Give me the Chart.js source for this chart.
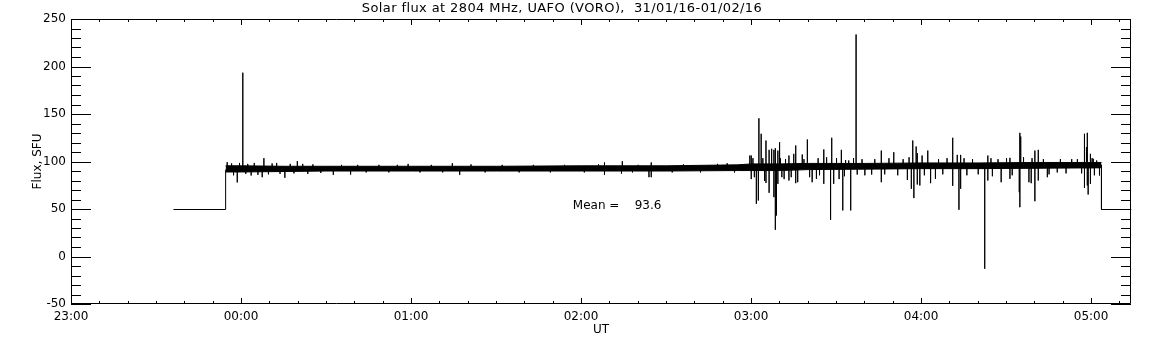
<!DOCTYPE html>
<html>
<head>
<meta charset="utf-8">
<title>Solar flux at 2804 MHz, UAFO (VORO)</title>
<script src="https://cdn.jsdelivr.net/npm/chart.js@4.4.1/dist/chart.umd.min.js"></script>
<style>
  html, body { margin: 0; padding: 0; background: #fff; }
  #wrap { width: 1152px; height: 345px; }
</style>
</head>
<body>
<div id="wrap"><canvas id="fluxChart" width="1152" height="345"></canvas></div>
<script>
// time axis: minutes after 23:00 UT (31/01/16)
const xTickValues = [0, 60, 120, 180, 240, 300, 360];
const xTickLabels = ['23:00', '00:00', '01:00', '02:00', '03:00', '04:00', '05:00'];
const yTickValues = [-50, 0, 50, 100, 150, 200, 250];
const xMin = 0, xMax = 374.1;
const yMin = -50, yMax = 250;
const meanFlux = 93.6;

// receiver off / calibration level before and after the record
const leadT = [36, 54.4, 54.4];
const leadV = [50, 50, 92];
const tailT = [363.5, 363.5, 374.1];
const tailV = [97, 50, 50];

// envelope of the dense noise band
const bandT = [54.4, 60, 75, 90, 120, 150, 180, 210, 235, 240, 250, 260, 280, 300, 320, 340, 355, 363.5];
const bandHi = [96, 96, 95.5, 95.5, 95.5, 95.5, 96, 96, 97, 98, 98, 98.5, 98.5, 99, 99, 99.5, 99.5, 99.5];
const bandLo = [89.5, 89.5, 90, 90.5, 90.5, 90.5, 90.5, 90.5, 91, 91, 91, 92, 92.5, 93, 93, 93.5, 94, 94];

// isolated spikes (time, flux)
const spikeT = [
  54.95, 58.5, 60.46, 63.4, 67.3, 67.9, 75.3, 79.7, 92.4, 98.5, 118.8, 134.4, 137,
  188.1, 188.1, 194.1, 194.4, 203.8, 204.6, 204.6, 231.4,
  239.4, 239.9, 239.9, 241.7, 242.4, 242.6, 243.4, 245.1, 245.1, 246.2, 246.2, 247.1,
  247.9, 247.9, 248.4, 248.4, 248.8, 249.3, 249.3, 249.9, 250.7, 253.2, 253.2, 254.9,
  255.6, 255.6, 256.3, 257.9, 259.7, 261.4, 262.9, 265.5, 265.5, 267.9, 268.3, 269,
  270.9, 271.7, 272.2, 273.2, 274.3, 275, 276.9, 277.3, 282.4, 285.8, 285.8, 290.2,
  295, 296.4, 296.9, 297.3, 298.1, 298.5, 298.5, 299.4, 300.2, 302.2, 303.2, 304.9,
  311, 311, 312.6, 313.2, 313.8, 313.8, 322.3, 323.4, 323.4, 328.1, 331.2, 331.2,
  334.5, 334.7, 334.7, 335, 337.9, 338.7, 340, 340, 341.2, 341.2, 344.4, 347.9,
  357.5, 357.5, 358.2, 358.5, 358.5, 358.8, 359.6, 359.6, 360.6, 361.8, 362.8
];
const spikeV = [
  99.8, 78.5, 194, 85.8, 84, 104, 83.4, 101, 86.5, 86.8, 98, 98.7, 86.5,
  99.5, 86.5, 87.6, 100.8, 84, 99.5, 84, 98.7,
  106.8, 106.8, 82, 56, 59.5, 146, 129.7, 122.6, 78, 112.8, 67.6, 113.9,
  112.8, 63, 28.6, 114.5, 43.7, 112, 77, 120.8, 84, 80.5, 106.8, 108.6,
  117.4, 77.7, 78.7, 107.9, 123.7, 78.7, 82.3, 113.2, 77, 39.1, 125.5, 77,
  82, 112.8, 49, 102, 101.6, 49, 234.2, 86.8, 86.8, 112, 78.7, 110.3,
  81.2, 71.8, 122.6, 62, 116.3, 109.3, 76.3, 75.3, 106.8, 112, 77.7, 82.3,
  125.5, 74.9, 107.5, 49.7, 107.5, 71.8, -12.4, 80.5, 106.8, 78.7, 104.4, 82.3,
  68.2, 130.7, 52.4, 126.8, 78.7, 77.7, 112, 58.7, 112.8, 80.5, 84, 89,
  129.7, 72.8, 115.6, 130.7, 75.3, 65.8, 108.6, 77, 103.4, 101.6, 85.8
];

// small excursions that roughen the edges of the band
const flickerT = [
  56.5, 57.2, 59.3, 61.5, 62.2, 64.5, 65.8, 69.5, 70.8, 72.4, 73.6, 77.2, 78.5, 81.6, 83.4,
  85.2, 88, 95.3, 101, 104, 108.5, 112, 115, 123, 127, 131, 141, 146, 152, 158, 163, 169,
  174, 181, 186, 198, 200, 212, 216, 222, 228, 234,
  240.5, 241, 244, 244.6, 250.2, 251.5, 252, 254, 258.5, 260.5, 263.5, 264, 266.5, 270,
  272.8, 276, 279, 280, 283.5, 287, 288.5, 291.6, 293.5, 295.6, 301, 306, 307.5, 309,
  315, 316, 318, 320, 324.5, 325, 327, 330, 332, 336, 339, 343, 345, 349, 351, 353, 355,
  356.5, 360.2, 361
];
const flickerV = [
  98.5, 86, 99, 87.5, 98, 99, 86.5, 87, 98.5, 99, 87.5, 98, 88, 98, 87.5,
  97.5, 88.5, 97, 97, 89, 97, 89, 97, 89, 97, 89, 97.5, 89, 97, 89, 97, 89,
  97, 89, 97.5, 89, 97, 89, 97.5, 89, 98, 89,
  104, 84, 104, 80, 104, 82, 103, 84, 103, 84, 104, 86, 105, 104,
  85, 104, 103, 86, 103, 87, 104, 86, 103, 105, 86, 103, 87, 104,
  104, 86, 103, 87, 104, 85, 103, 104, 86, 105, 104, 103, 87, 103, 88, 103, 103,
  88, 104, 86
];
const spikeBase = 94;

const toPoints = (ts, vs) => ts.map((t, i) => ({ x: t, y: vs[i] }));

// each excursion is drawn as a vertical stroke out of the band and back
function strokePoints(ts, vs) {
    const pts = [];
    ts.forEach((t, i) => {
        pts.push({ x: t, y: spikeBase }, { x: t, y: vs[i] }, { x: t, y: spikeBase });
    });
    return pts;
}

const FONT = { family: 'DejaVu Sans', size: 12 };

// half pixel shift so level lines land on whole pixel rows
const crispLines = {
    id: 'crispLines',
    beforeDatasetsDraw(chart) { chart.ctx.save(); chart.ctx.translate(0.5, 0.5); },
    afterDatasetsDraw(chart) { chart.ctx.restore(); }
};

// IDL style frame: box with inward ticks on all four sides, title and mean label
const idlFrame = {
    id: 'idlFrame',
    afterDraw(chart) {
        const { ctx, chartArea: a, scales: { x, y } } = chart;
        ctx.save();
        ctx.strokeStyle = '#000';
        ctx.lineWidth = 1;
        ctx.beginPath();
        ctx.rect(a.left + 0.5, a.top + 0.5, a.right - a.left - 1, a.bottom - a.top - 1);
        for (let v = xMin; v <= xMax; v += 10) {
            const px = Math.round(x.getPixelForValue(v)) + 0.5;
            const len = v % 60 === 0 ? 6 : 3;
            ctx.moveTo(px, a.bottom); ctx.lineTo(px, a.bottom - len);
            ctx.moveTo(px, a.top); ctx.lineTo(px, a.top + len);
        }
        for (let v = yMin; v <= yMax; v += 10) {
            const py = Math.round(y.getPixelForValue(v)) + 0.5;
            const len = v % 50 === 0 ? 20 : 10;
            ctx.moveTo(a.left, py); ctx.lineTo(a.left + len, py);
            ctx.moveTo(a.right, py); ctx.lineTo(a.right - len, py);
        }
        ctx.stroke();

        ctx.fillStyle = '#000';
        ctx.textBaseline = 'middle';
        ctx.font = `13px ${FONT.family}`;
        ctx.letterSpacing = '0.4px';
        ctx.textAlign = 'center';
        ctx.fillText('Solar flux at 2804 MHz, UAFO (VORO),  31/01/16-01/02/16', 562, 9);
        ctx.letterSpacing = '0px';
        ctx.font = `${FONT.size}px ${FONT.family}`;
        ctx.textAlign = 'left';
        ctx.fillText('Mean =    ' + meanFlux.toFixed(1), x.getPixelForValue(177.1), y.getPixelForValue(53.5));
        ctx.restore();
    }
};

const lineStyle = { borderColor: '#000', borderWidth: 1, pointRadius: 0, tension: 0, fill: false };

new Chart(document.getElementById('fluxChart').getContext('2d'), {
    type: 'line',
    data: {
        datasets: [
            { ...lineStyle, label: 'lead', data: toPoints(leadT, leadV) },
            { ...lineStyle, label: 'band hi', data: toPoints(bandT, bandHi) },
            { ...lineStyle, label: 'band lo', data: toPoints(bandT, bandLo), fill: '-1', backgroundColor: '#000' },
            { ...lineStyle, label: 'flicker', data: strokePoints(flickerT, flickerV) },
            { ...lineStyle, label: 'spikes', data: strokePoints(spikeT, spikeV) },
            { ...lineStyle, label: 'tail', data: toPoints(tailT, tailV) }
        ]
    },
    options: {
        responsive: false,
        animation: false,
        devicePixelRatio: 1,
        layout: { padding: { left: 0, right: 21, top: 19, bottom: 0 } },
        plugins: { legend: { display: false }, tooltip: { enabled: false } },
        scales: {
            x: {
                type: 'linear',
                min: xMin,
                max: xMax,
                grid: { display: false, drawTicks: false },
                border: { display: false },
                afterBuildTicks: scale => { scale.ticks = xTickValues.map(v => ({ value: v })); },
                afterFit: scale => { scale.height = 41; },
                ticks: {
                    color: '#000',
                    font: FONT,
                    padding: 6,
                    maxRotation: 0,
                    autoSkip: false,
                    callback: v => xTickLabels[xTickValues.indexOf(v)]
                },
                title: { display: true, text: 'UT', color: '#000', font: FONT, padding: { top: 0, bottom: 8 } }
            },
            y: {
                type: 'linear',
                min: yMin,
                max: yMax,
                grid: { display: false, drawTicks: false },
                border: { display: false },
                afterBuildTicks: scale => { scale.ticks = yTickValues.map(v => ({ value: v })); },
                afterFit: scale => { scale.width = 71; },
                ticks: { color: '#000', font: FONT, padding: 5 },
                title: { display: true, text: 'Flux, SFU', color: '#000', font: FONT, padding: { top: 31, bottom: 0 } }
            }
        }
    },
    plugins: [crispLines, idlFrame]
});
</script>
</body>
</html>
